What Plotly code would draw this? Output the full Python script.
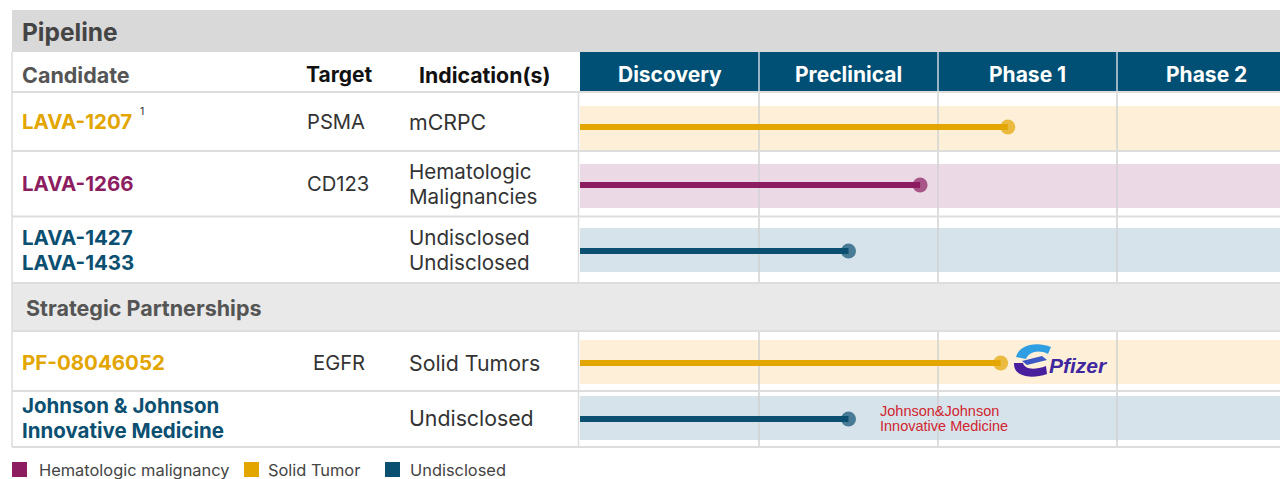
import plotly.graph_objects as go

# ---------------- data ----------------
phases = ["Discovery", "Preclinical", "Phase 1", "Phase 2"]
candidates = ["LAVA-1207", "LAVA-1266", "LAVA-1427<br>LAVA-1433", "PF-08046052",
              "Johnson & Johnson<br>Innovative Medicine"]
targets = ["PSMA", "CD123", "", "EGFR", ""]
indications = ["mCRPC", "Hematologic<br>Malignancies", "Undisclosed<br>Undisclosed",
               "Solid Tumors", "Undisclosed"]
categories = ["Solid Tumor", "Hematologic malignancy", "Undisclosed", "Solid Tumor", "Undisclosed"]
progress = [2.39, 1.9, 1.5, 2.35, 1.5]   # in phase units (0 = start of Discovery)
legend_items = ["Hematologic malignancy", "Solid Tumor", "Undisclosed"]

# ---------------- styles ----------------
cat_color = {"Hematologic malignancy": "#8c1d61", "Solid Tumor": "#e3a500", "Undisclosed": "#0b4f71"}
cat_band = {"Hematologic malignancy": "#ebd9e5", "Solid Tumor": "#fdefd8", "Undisclosed": "#d6e3ea"}
FONT = "Inter, Open Sans, sans-serif"
W, H = 1280, 479
X0, PX = 580, 179.0          # pixel position of phase 0 and pixel width per phase

# layout rows (pixel positions)
band_center = [128, 186, 250, 362, 418]
line_y = [127, 185, 251, 363, 419]
text_center = [121.5, 183.5, 249.5, 362.5, 418]
target_x = [306, 306, 306, 312, 306]
line_pitch = 25

fig = go.Figure()
shapes = []
ann = []


def rect(x0, y0, x1, y1, color, layer="below"):
    shapes.append(dict(type="rect", xref="x2", yref="y", x0=x0, y0=y0, x1=x1, y1=y1,
                       fillcolor=color, line=dict(width=0), layer=layer))


def line(x0, y0, x1, y1, color, width=1.5, layer="below"):
    shapes.append(dict(type="line", xref="x2", yref="y", x0=x0, y0=y0, x1=x1, y1=y1,
                       line=dict(color=color, width=width), layer=layer))


def text(x, y, s, size, color, bold=False, anchor="left", family=FONT, italic=False):
    t = s
    if bold:
        t = "<b>" + t + "</b>"
    if italic:
        t = "<i>" + t + "</i>"
    ann.append(dict(xref="x2", yref="y", x=x, y=y, text=t, showarrow=False,
                    xanchor=anchor, yanchor="middle", borderpad=0,
                    font=dict(size=size, color=color, family=family)))


# title band
rect(12, 10, W, 52, "#d9d9d9")
text(21, 31.5, "Pipeline", 24.5, "#444444", bold=True)

# header row
rect(X0, 52, W, 92, "#004f74")
text(21, 74.5, "Candidate", 21.5, "#555555", bold=True)
text(339, 74.5, "Target", 21, "#111111", bold=True, anchor="center")
text(418, 74.5, "Indication(s)", 21.3, "#111111", bold=True)

# strategic partnerships band
rect(12, 284, W, 330, "#e9e9e9")
text(25, 307.5, "Strategic Partnerships", 21.5, "#555555", bold=True)

# row bands in chart area
for i, cat in enumerate(categories):
    rect(X0, band_center[i] - 22, W, band_center[i] + 22, cat_band[cat])

# vertical grid lines (phase boundaries)
for k in range(1, len(phases)):
    xp = X0 + PX * k
    line(xp, 52, xp, 92, "#c9d6de", 1.5)
    line(xp, 92, xp, 283, "#d2d2d2", 1.5)
    line(xp, 331, xp, 447, "#d2d2d2", 1.5)

# left borders
line(12, 52, 12, 447, "#dddddd", 1.5)
line(578.5, 92, 578.5, 283, "#dddddd", 1.5)
line(578.5, 331, 578.5, 447, "#dddddd", 1.5)

# horizontal separators
for yy in [92, 151, 216.5, 283, 331, 391, 447]:
    line(12, yy, W, yy, "#dddddd", 2)

# phase header labels
for k, p in enumerate(phases):
    text(X0 + PX * (k + 0.5), 74.5, p, 21, "#ffffff", bold=True, anchor="center")

# table text
for i in range(len(candidates)):
    col = cat_color[categories[i]]
    lines = candidates[i].split("<br>")
    n = len(lines)
    for j, s in enumerate(lines):
        yy = text_center[i] + (j - (n - 1) / 2) * line_pitch
        text(21, yy, s, 20.5, col, bold=True)
    if targets[i]:
        text(target_x[i], text_center[i], targets[i], 20.2, "#333333")
    lines = indications[i].split("<br>")
    n = len(lines)
    for j, s in enumerate(lines):
        yy = text_center[i] + (j - (n - 1) / 2) * line_pitch
        text(408, yy, s, 21.3 if n == 1 else 20.6, "#333333")

# superscript footnote
text(139, 111.5, "1", 10.5, "#333333")

# progress lines (data, in phase units on the x axis)
for i in range(len(candidates)):
    col = cat_color[categories[i]]
    fig.add_trace(go.Scatter(
        x=[0, progress[i]], y=[line_y[i], line_y[i]],
        mode="lines+markers", xaxis="x", yaxis="y",
        line=dict(color=col, width=6),
        marker=dict(size=[0, 15], color=col, line=dict(width=0)),
        hoverinfo="skip", showlegend=False, cliponaxis=False))

# Pfizer logo (approximation)
shapes.append(dict(type="path", xref="x2", yref="y", layer="above",
                   path="M1016,357 C1019,345 1036,341 1051,347 L1048,354 C1038,349 1029,352 1026,359 Z",
                   fillcolor="#2f9ee2", line=dict(width=0)))
shapes.append(dict(type="path", xref="x2", yref="y", layer="above",
                   path="M1022,361 L1042,356 L1047,360 L1027,365 Z",
                   fillcolor="#3d57c4", line=dict(width=0)))
shapes.append(dict(type="path", xref="x2", yref="y", layer="above",
                   path="M1014,363 C1013,376 1030,380 1047,374 L1046,366 C1035,370 1025,370 1023,363 Z",
                   fillcolor="#4a1f9e", line=dict(width=0)))
text(1048, 365, "Pfizer", 21, "#3f27a0", bold=True, italic=True,
     family="Liberation Sans, Arial, sans-serif")

# J&J logo (approximation)
JJF = "Liberation Sans Narrow, Liberation Sans, Arial, sans-serif"
text(879, 410.5, "Johnson&Johnson", 14.5, "#d2232f", family=JJF)
text(879, 425.5, "Innovative Medicine", 14.5, "#d2232f", family=JJF)

# legend
leg_x = [12, 244, 385]
leg_tx = [38, 267, 409]
for k, name in enumerate(legend_items):
    rect(leg_x[k], 462, leg_x[k] + 15, 477, cat_color[name])
    text(leg_tx[k], 469.5, name, 16.4, "#444444")

fig.update_layout(
    width=W, height=H,
    margin=dict(l=0, r=0, t=0, b=0),
    paper_bgcolor="white", plot_bgcolor="white",
    showlegend=False,
    xaxis=dict(range=[-X0 / PX, (W - X0) / PX], visible=False, fixedrange=True),
    xaxis2=dict(range=[0, W], overlaying="x", anchor="y", visible=False, fixedrange=True),
    yaxis=dict(range=[H, 0], visible=False, fixedrange=True),
    shapes=shapes, annotations=ann,
)

fig.write_html("out.html", config={"displayModeBar": False},
               post_script="document.body.style.margin='0';")
